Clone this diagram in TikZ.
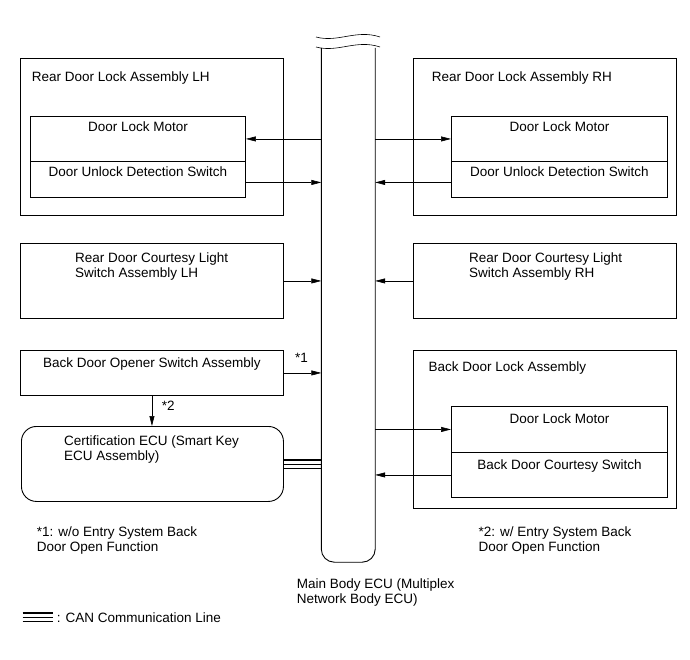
\documentclass[tikz,border=0pt]{standalone}
\usepackage{fontspec}
\setmainfont{Liberation Sans}
\usetikzlibrary{arrows.meta}

\begin{document}
\begin{tikzpicture}[x=1pt,y=-1pt,
  box/.style={draw, line width=0.9pt, inner sep=0pt, anchor=north west},
  lbl/.style={inner sep=0pt, font=\fontsize{13.5}{15}\selectfont, align=left},
  arr/.style={-{Triangle[length=10pt,width=5pt]}, line width=0.6pt}]

  \useasboundingbox (0,0) rectangle (690,660);

  % ========== Main Body ECU (bus) ==========
  \node[inner sep=0pt, minimum width=53.5, minimum height=514] (bus) at (348.25,305) {};
  \draw[line width=0.9pt, rounded corners=13] (bus.north west) -- (bus.south west) -- (bus.south east) -- (bus.north east);
  \draw[line width=0.6pt] (316,37) .. controls (338,43) and (356,29) .. (380,37);
  \draw[line width=0.6pt] (316,47) .. controls (338,53) and (356,39) .. (380,47);
  % (multi-line labels sit on the baseline of their last line)
  \node[lbl, anchor=base west] (busT) at (296.7,603) {Main Body ECU (Multiplex\\Network Body ECU)};

  % ========== Rear Door Lock Assembly LH ==========
  \node[box, minimum width=263, minimum height=157] (lhA) at (20,58) {};
  \node[box, minimum width=215, minimum height=45] (lhMot) at (30,116) {};
  \node[box, minimum width=215, minimum height=36] (lhSw) at (30,161) {};
  \node[lbl, anchor=base west] (lhAT) at (31.7,82) {Rear Door Lock Assembly LH};
  \node[lbl, anchor=base] (lhMotT) at ([yshift=-16pt]lhMot.north) {Door Lock Motor};
  \node[lbl, anchor=base] (lhSwT) at ([yshift=-16pt]lhSw.north) {Door Unlock Detection Switch};
  \draw[arr] (lhMot.east -| bus.west) -- (lhMot.east);
  \draw[arr] ([yshift=-3pt]lhSw.east) -- ([yshift=-3pt]lhSw.east -| bus.west);

  % ========== Rear Door Lock Assembly RH ==========
  \node[box, minimum width=263, minimum height=157] (rhA) at (413,58) {};
  \node[box, minimum width=216, minimum height=45] (rhMot) at (451,116) {};
  \node[box, minimum width=216, minimum height=36] (rhSw) at (451,161) {};
  \node[lbl, anchor=base west] (rhAT) at (431.7,82) {Rear Door Lock Assembly RH};
  \node[lbl, anchor=base] (rhMotT) at ([yshift=-16pt]rhMot.north) {Door Lock Motor};
  \node[lbl, anchor=base] (rhSwT) at ([yshift=-16pt]rhSw.north) {Door Unlock Detection Switch};
  \draw[arr] (rhMot.west -| bus.east) -- (rhMot.west);
  \draw[arr] ([yshift=-3pt]rhSw.west) -- ([yshift=-3pt]rhSw.west -| bus.east);

  % ========== Courtesy light switches ==========
  \node[box, minimum width=263, minimum height=75] (lhCL) at (20,243) {};
  \node[lbl, anchor=base west] (lhCLT) at (75,277) {Rear Door Courtesy Light\\Switch Assembly LH};
  \draw[arr] (lhCL.east) -- (lhCL.east -| bus.west);

  \node[box, minimum width=263, minimum height=75] (rhCL) at (413,243) {};
  \node[lbl, anchor=base west] (rhCLT) at (469,277) {Rear Door Courtesy Light\\Switch Assembly RH};
  \draw[arr] (rhCL.west) -- (rhCL.west -| bus.east);

  % ========== Back door opener / certification ECU ==========
  \node[box, minimum width=263, minimum height=45] (opener) at (20,350) {};
  \node[lbl, anchor=base] (openerT) at ([yshift=-17pt]opener.north) {Back Door Opener Switch Assembly};
  \draw[arr] (opener.east) -- (opener.east -| bus.west);
  \node[lbl, anchor=base west] (star1) at (295,362) {*1};

  \node[box, rounded corners=15, minimum width=262, minimum height=75] (cert) at (21,426) {};
  \node[lbl, anchor=base west] (certT) at (64,460) {Certification ECU (Smart Key\\ECU Assembly)};
  \draw[arr] (opener.south) -- (opener.south |- cert.north);
  \node[lbl, anchor=base west] (star2) at (161.7,410) {*2};

  % CAN line
  \foreach \dy/\w in {4/1.6, 0/0.7, -4/0.7}
    \draw[line width=\w pt] ([yshift=\dy pt]cert.east) -- ([yshift=\dy pt]cert.east -| bus.west);

  % ========== Back Door Lock Assembly ==========
  \node[box, minimum width=263, minimum height=158] (bdA) at (413,350) {};
  \node[box, minimum width=216, minimum height=46] (bdMot) at (451,406) {};
  \node[box, minimum width=216, minimum height=45] (bdSw) at (451,452) {};
  \node[lbl, anchor=base west] (bdAT) at (428.3,371.7) {Back Door Lock Assembly};
  \node[lbl, anchor=base] (bdMotT) at ([yshift=-17pt]bdMot.north) {Door Lock Motor};
  \node[lbl, anchor=base] (bdSwT) at ([yshift=-17pt]bdSw.north) {Back Door Courtesy Switch};
  \draw[arr] (bdMot.west -| bus.east) -- (bdMot.west);
  \draw[arr] (bdSw.west) -- (bdSw.west -| bus.east);

  % ========== Notes ==========
  \node[lbl, anchor=base west] (note1) at (36.7,551.7) {*1: w/o Entry System Back\\Door Open Function};
  \node[lbl, anchor=base west] (note2) at (478.3,551.7) {*2: w/ Entry System Back\\Door Open Function};

  % legend
  \foreach \y/\w in {613/1.8, 617.5/0.8, 621.5/0.8}
    \draw[line width=\w pt] (22.7,\y) -- (53.3,\y);
  \node[lbl, anchor=base west] (legT) at (56.7,622.7) {: CAN Communication Line};

\end{tikzpicture}
\end{document}
